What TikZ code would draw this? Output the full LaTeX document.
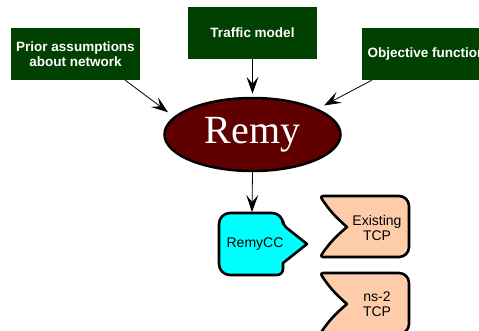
\documentclass[tikz,border=0pt]{standalone}
\usepackage{fontspec}
\setmainfont{Liberation Sans}
\newfontfamily\remyfont{Liberation Serif}
\usetikzlibrary{shapes.geometric,arrows.meta,calc}
\definecolor{boxgreen}{RGB}{0,64,0}
\definecolor{remyred}{RGB}{96,0,0}
\definecolor{peach}{RGB}{255,204,170}
\definecolor{ccyan}{RGB}{0,255,255}
\tikzset{
  gbox/.style={rectangle, fill=boxgreen, text=white, font=\fontsize{13.5}{15}\selectfont\bfseries,
    align=center, minimum width=129pt, minimum height=52pt, inner sep=0pt},
  arr/.style={-{Stealth[length=17pt,width=12pt,inset=7pt]}, line width=0.8pt},
  shp/.style={draw=black, line width=2.6pt, line join=round},
  shptext/.style={font=\fontsize{14}{14.5}\selectfont, align=center, inner sep=0pt}
}
\begin{document}
\begin{tikzpicture}[x=1pt,y=-1pt]
\useasboundingbox (0,0) rectangle (479,330);
\clip (0,0) rectangle (479,330);
\node[gbox] (prior) at (75.5,54) {Prior assumptions\\about network};
\node[gbox] (traffic) at (252.5,33) {Traffic model};
\node[gbox] (objective) at (426.5,54) {Objective function};
\node[ellipse, draw=black, line width=2.5pt, fill=remyred, minimum width=176pt, minimum height=73pt,
  inner sep=0pt, text=white, font=\remyfont\fontsize{40}{40}\selectfont] (remy) at (252.5,134.5) {Remy};
% RemyCC shape
\draw[shp, fill=ccyan] (219,244) [rounded corners=11pt] -- (219,213) -- (283,213) [rounded corners=4pt] -- (283,225) [sharp corners] -- (307,244) -- (283,263) [rounded corners=6pt] -- (283,275) [rounded corners=11pt] -- (219,275) [sharp corners] -- cycle;
\node[shptext] (remycc) at (255,244) {RemyCC};
\coordinate (ccTop) at (252,212);
% Existing TCP
\draw[shp, fill=peach] (347,227) [rounded corners=3pt] to[bend left=8] (320,196) [rounded corners=10pt] -- (409,196) -- (409,257) [rounded corners=3pt] -- (320,257) [sharp corners] to[bend left=8] cycle;
\node[shptext] (existing) at (377,228) {Existing\\TCP};
% ns-2 TCP
\draw[shp, fill=peach] (347,304) [rounded corners=3pt] to[bend left=8] (320,273) [rounded corners=10pt] -- (409,273) -- (409,334) [rounded corners=3pt] -- (320,334) [sharp corners] to[bend left=8] cycle;
\node[shptext] (ns2) at (377,304) {ns-2\\TCP};
% arrows
\draw[arr] ($(prior.south east)+(-15,0)$) -- ($(remy.165)+(-9,-2)$);
\draw[arr] (traffic.south) -- ($(remy.north)+(0,-3)$);
\draw[arr] ($(objective.south west)+(10,0)$) -- ($(remy.22)+(7,-3)$);
\draw[arr] (remy.south) -- (ccTop);
\end{tikzpicture}
\end{document}
